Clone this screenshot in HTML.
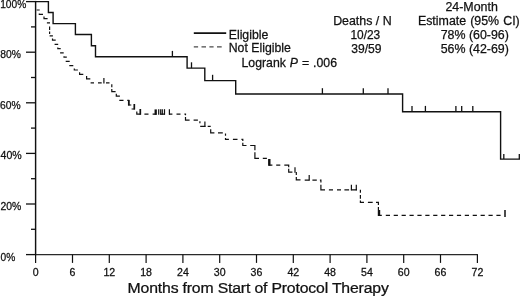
<!DOCTYPE html>
<html><head><meta charset="utf-8"><title>Kaplan-Meier</title>
<style>
html,body{margin:0;padding:0;background:#fff;}
body{width:520px;height:297px;overflow:hidden;}
svg{display:block;filter:grayscale(1);}
text{font-family:"Liberation Sans",sans-serif;fill:#111;stroke:#111;stroke-width:0.25;}
.ax{fill:none;stroke:#111;stroke-width:1.3;}
.sol{fill:none;stroke:#111;stroke-width:1.4;}
.ct{fill:none;stroke:#111;stroke-width:1.3;}
.ct2{fill:none;stroke:#111;stroke-width:1.2;}
.ct3{fill:none;stroke:#111;stroke-width:1.5;}
.dsh{fill:none;stroke:#111;stroke-width:1.2;}
.lgd{fill:none;stroke:#4a4a4a;stroke-width:1.2;}
</style></head>
<body>
<svg width="520" height="297" viewBox="0 0 520 297">
<rect width="520" height="297" fill="#fff"/>
<path d="M35.6 0.9 V255.2" class="ax" style="stroke-width:1.45"/>
<path d="M35.6 254.7 H477.9" class="ax" style="stroke-width:1.25;stroke:#2a2a2a"/>
<path d="M35.6 254.6 V262.9" class="ax" style="stroke-width:1.2"/>
<path d="M72.5 254.6 V262.9" class="ax" style="stroke-width:1.2"/>
<path d="M109.3 254.6 V262.9" class="ax" style="stroke-width:1.2"/>
<path d="M146.1 254.6 V262.9" class="ax" style="stroke-width:1.2"/>
<path d="M182.9 254.6 V262.9" class="ax" style="stroke-width:1.2"/>
<path d="M219.7 254.6 V262.9" class="ax" style="stroke-width:1.2"/>
<path d="M256.5 254.6 V262.9" class="ax" style="stroke-width:1.2"/>
<path d="M293.3 254.6 V262.9" class="ax" style="stroke-width:1.2"/>
<path d="M330.1 254.6 V262.9" class="ax" style="stroke-width:1.2"/>
<path d="M366.9 254.6 V262.9" class="ax" style="stroke-width:1.2"/>
<path d="M403.7 254.6 V262.9" class="ax" style="stroke-width:1.2"/>
<path d="M440.5 254.6 V262.9" class="ax" style="stroke-width:1.2"/>
<path d="M477.4 254.6 V262.9" class="ax" style="stroke-width:1.2"/>
<path d="M26.0 1.6 H35.6" class="ax"/>
<path d="M31.0 26.9 H35.6" class="ax"/>
<path d="M26.0 52.2 H35.6" class="ax"/>
<path d="M31.0 77.5 H35.6" class="ax"/>
<path d="M26.0 102.8 H35.6" class="ax"/>
<path d="M31.0 128.1 H35.6" class="ax"/>
<path d="M26.0 153.4 H35.6" class="ax"/>
<path d="M31.0 178.7 H35.6" class="ax"/>
<path d="M26.0 204.0 H35.6" class="ax"/>
<path d="M31.0 229.3 H35.6" class="ax"/>
<path d="M26.0 254.6 H35.6" class="ax"/>
<path d="M35.6 1.6 H48.4 V12.5 H53.1 V23.6 H75.4 V34.5 H91.4 V45.7 H95.5 V56.7 H187.1 V68.1 H204.8 V80.6 H235.7 V94.0 H402.6 V111.7 H500.6 V159.1 H520" class="sol"/>
<path d="M172.4 56.7 v-5.8" class="ct"/>
<path d="M191.5 68.1 v-5.8" class="ct"/>
<path d="M212.6 80.6 v-5.8" class="ct"/>
<path d="M322.4 94.0 v-5.8" class="ct"/>
<path d="M363.3 94.0 v-5.8" class="ct"/>
<path d="M388 94.0 v-5.8" class="ct"/>
<path d="M412 111.7 v-5.8" class="ct"/>
<path d="M425.4 111.7 v-5.8" class="ct"/>
<path d="M455.9 111.7 v-5.8" class="ct"/>
<path d="M461.7 111.7 v-5.8" class="ct"/>
<path d="M472.8 111.7 v-5.8" class="ct"/>
<path d="M503.8 159.1 v-5.1" class="ct"/>
<path d="M519.3 159.1 v-5.1" class="ct"/>
<path d="M36.6 10.0 L39.7 10.0 M39.3 13.4 L39.3 14.3 L43.0 14.3 M44.0 16.4 L44.0 18.6 L47.6 18.6 M46.9 22.9 L50.0 22.9 M49.6 26.5 L49.6 30.0 M49.6 31.6 L49.6 34.1 M49.6 35.8 L52.9 35.8 M52.5 38.5 L52.5 40.1 L55.7 40.1 M54.6 44.3 L58.2 44.3 M57.8 47.4 L57.8 48.6 L60.7 48.6 M60.1 52.9 L63.7 52.9 M64.0 56.2 L64.0 57.2 L66.8 57.2 M65.7 61.3 L69.7 61.3 M69.3 65.6 L73.3 65.6 M74.3 68.4 L74.3 70.0 L77.9 70.0 M79.6 72.2 L79.6 74.4 L83.3 74.4 M86.6 75.9 L86.6 78.8 L90.3 78.8 M90.6 82.9 L94.0 82.9 M98.0 82.9 L101.7 82.9 M106.0 82.9 L109.5 82.9 M111.8 84.2 L111.8 87.2 M111.8 89.1 L111.8 91.6 L115.6 91.6 M116.3 93.8 L116.3 96.1 L119.9 96.1 M119.3 100.4 L123.5 100.4 M127.3 100.3 L128.7 100.3 L128.7 105.0 L131.3 105.0 M131.6 109.0 L134.9 109.0 M136.8 111.6 L136.8 114.2 L140.7 114.2 M144.4 114.2 L148.5 114.2 M152.6 114.2 L156.4 114.2 M160.3 114.2 L164.9 114.2 M169.0 114.2 L172.4 114.2 M176.5 114.2 L180.5 114.2 M184.4 114.2 L185.5 114.2 L185.5 115.3 M185.5 117.1 L185.5 120.1 L189.6 120.1 M193.6 120.1 L197.9 120.1 M199.9 121.3 L199.9 123.3 M200.2 126.4 L205.4 126.4 M207.7 126.4 L210.7 126.4 M210.7 129.2 L210.7 132.9 L214.4 132.9 M218.0 132.9 L222.8 132.9 M225.5 133.4 L225.5 135.8 M225.5 137.9 L225.5 139.3 L228.9 139.3 M232.9 139.3 L237.5 139.3 M241.4 139.3 L242.8 139.3 L242.8 140.9 M242.8 142.8 L242.8 145.5 L246.5 145.5 M250.2 145.5 L254.9 145.5 L254.9 150.2 M254.9 152.2 L254.9 158.3 L259.0 158.3 M262.8 158.3 L266.9 158.3 M268.9 159.0 L268.9 165.1 L272.4 165.1 M276.2 165.1 L280.3 165.1 M284.3 165.1 L288.7 165.1 L288.7 167.3 M288.7 168.8 L288.7 172.2 L292.4 172.2 M296.3 172.0 L296.3 174.9 M296.3 176.9 L296.3 179.9 L300.5 179.9 M304.7 180.1 L309.6 180.1 M312.4 180.1 L316.8 180.1 M319.9 180.1 L320.9 180.1 L320.9 182.5 M320.9 184.8 L320.9 189.8 L325.0 189.8 M328.9 189.8 L333.0 189.8 M337.0 189.8 L341.0 189.8 M344.4 189.8 L349.1 189.8 M350.9 189.9 L357.0 189.9 M360.4 189.8 L360.4 192.8 M360.4 195.1 L360.4 198.8 M360.4 200.5 L360.4 202.3 L364.0 202.3 M367.9 202.3 L372.7 202.3 M376.0 202.3 L378.4 202.3 L378.4 204.9 M378.4 206.9 L378.4 215.4 L381.8 215.4 M385.8 215.4 L390.0 215.4 M393.7 215.4 L397.9 215.4 M401.6 215.4 L405.8 215.4 M409.5 215.4 L413.7 215.4 M417.4 215.4 L421.6 215.4 M425.3 215.4 L429.5 215.4 M433.2 215.4 L437.4 215.4 M441.1 215.4 L445.3 215.4 M449.0 215.4 L453.2 215.4 M456.9 215.4 L461.1 215.4 M464.8 215.4 L469.0 215.4 M472.7 215.4 L476.9 215.4 M480.6 215.4 L484.8 215.4 M488.5 215.4 L492.7 215.4 M496.4 215.4 L500.6 215.4" class="dsh"/>
<path d="M103.9 83.4 v-5.5" class="ct2"/>
<path d="M158.7 114.7 v-5.5" class="ct2"/>
<path d="M160.7 114.7 v-5.5" class="ct2"/>
<path d="M162.3 114.7 v-5.5" class="ct2"/>
<path d="M164.5 114.7 v-5.5" class="ct2"/>
<path d="M169.4 114.7 v-5.5" class="ct2"/>
<path d="M204.9 126.9 v-5.5" class="ct2"/>
<path d="M295.0 172.7 v-5.5" class="ct2"/>
<path d="M309.2 180.6 v-5.5" class="ct2"/>
<path d="M351.4 190.3 v-5.5" class="ct2"/>
<path d="M356.3 190.3 v-5.5" class="ct2"/>
<path d="M505 217 V210" class="ct3"/>
<path d="M128.8 100.1 V105.4 M134.3 104.0 V109.5 M140.3 109 V114.7" class="ct2" style="stroke-width:1.7"/>
<path d="M155.7 114.8 V109.4" class="ct2" style="stroke-width:2.3"/>
<path d="M269.4 165.7 V159" class="ct2" style="stroke-width:2.2"/>
<path d="M379.1 216 V210" class="ct2" style="stroke-width:2.2"/>
<path d="M193.8 33.1 H226.2" class="sol" style="stroke-width:1.7"/>
<path d="M193.8 46.9 H198.1 M201.5 46.9 H206 M209.4 46.9 H213.6 M217 46.9 H221.7" class="lgd"/>
<text transform="translate(0.2 7.6) scale(0.985 1)" font-size="10.36" text-anchor="start" >100%</text>
<text transform="translate(0.2 57.7) scale(1.0 1)" font-size="10.3" text-anchor="start" >80%</text>
<text transform="translate(0.1 108.7) scale(1.0 1)" font-size="10.3" text-anchor="start" >60%</text>
<text transform="translate(0.5 158.9) scale(1.03 1)" font-size="10.29" text-anchor="start" >40%</text>
<text transform="translate(0.4 209.8) scale(1.01 1)" font-size="10.3" text-anchor="start" >20%</text>
<text transform="translate(0.5 261.1) scale(0.985 1)" font-size="10.36" text-anchor="start" >0%</text>
<text transform="translate(35.6 276.1) scale(1.03 1)" font-size="10.29" text-anchor="middle" >0</text>
<text transform="translate(72.5 276.1) scale(1.03 1)" font-size="10.29" text-anchor="middle" >6</text>
<text transform="translate(109.3 276.1) scale(1.03 1)" font-size="10.29" text-anchor="middle" >12</text>
<text transform="translate(146.1 276.1) scale(1.03 1)" font-size="10.29" text-anchor="middle" >18</text>
<text transform="translate(182.9 276.1) scale(1.03 1)" font-size="10.29" text-anchor="middle" >24</text>
<text transform="translate(219.7 276.1) scale(1.03 1)" font-size="10.29" text-anchor="middle" >30</text>
<text transform="translate(256.5 276.1) scale(1.03 1)" font-size="10.29" text-anchor="middle" >36</text>
<text transform="translate(293.3 276.1) scale(1.03 1)" font-size="10.29" text-anchor="middle" >42</text>
<text transform="translate(330.1 276.1) scale(1.03 1)" font-size="10.29" text-anchor="middle" >48</text>
<text transform="translate(366.9 276.1) scale(1.03 1)" font-size="10.29" text-anchor="middle" >54</text>
<text transform="translate(403.7 276.1) scale(1.03 1)" font-size="10.29" text-anchor="middle" >60</text>
<text transform="translate(440.5 276.1) scale(1.03 1)" font-size="10.29" text-anchor="middle" >66</text>
<text transform="translate(477.4 276.1) scale(1.03 1)" font-size="10.29" text-anchor="middle" >72</text>
<text transform="translate(127.6 292.7) scale(1.075 1)" font-size="14.7" text-anchor="start" letter-spacing="-0.16">Months from Start of Protocol Therapy</text>
<text transform="translate(228.7 38.5) scale(1.02 1)" font-size="12.06" text-anchor="start" >Eligible</text>
<text transform="translate(228.7 52.4) scale(1.02 1)" font-size="12.06" text-anchor="start" >Not Eligible</text>
<text transform="translate(241.5 66.6) scale(1.02 1)" font-size="12.06" text-anchor="start" word-spacing="0.5">Logrank <tspan font-style="italic">P</tspan> = .006</text>
<text transform="translate(362.4 24.6) scale(1.0 1)" font-size="12.4" text-anchor="middle" >Deaths / N</text>
<text transform="translate(365.3 38.7) scale(1.0 1)" font-size="11.9" text-anchor="middle" >10/23</text>
<text transform="translate(366.4 52.6) scale(1.0 1)" font-size="12.1" text-anchor="middle" >39/59</text>
<text transform="translate(471.6 10.7) scale(1.0 1)" font-size="12.4" text-anchor="middle" >24-Month</text>
<text transform="translate(468.8 24.7) scale(1.03 1)" font-size="12.04" text-anchor="middle" word-spacing="0.6">Estimate (95% CI)</text>
<text transform="translate(474.8 38.6) scale(1.0 1)" font-size="12.4" text-anchor="middle" >78% (60-96)</text>
<text transform="translate(474.8 52.8) scale(1.0 1)" font-size="12.4" text-anchor="middle" >56% (42-69)</text>
</svg>
</body></html>
